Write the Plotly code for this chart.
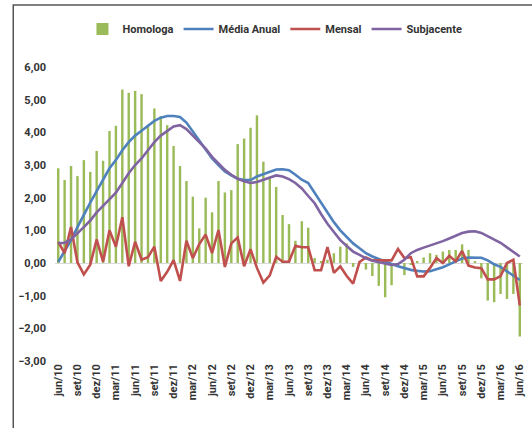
import plotly.graph_objects as go

# categories: monthly, jun/10 .. jun/16
month_names = ["jan", "fev", "mar", "abr", "mai", "jun", "jul", "ago", "set", "out", "nov", "dez"]
months = []
for k in range(73):
    m = (5 + k) % 12
    y = 10 + (5 + k) // 12
    months.append(f"{month_names[m]}/{y:02d}")
tick_labels = months[::3]

homologa = [2.90, 2.54, 2.97, 2.66, 3.15, 2.79, 3.43, 3.13, 4.04, 4.20,
            5.31, 5.21, 5.27, 5.17, 4.21, 4.73, 4.50, 4.22, 3.58, 2.97,
            2.51, 2.03, 1.06, 2.00, 1.55, 2.51, 2.16, 2.23, 3.64, 3.81,
            4.14, 4.52, 3.10, 2.59, 2.33, 1.47, 1.19, 0.68, 1.28, 1.08,
            0.15, 0.05, 0.10, 0.30, 0.50, 0.60, -0.12, 0.05, -0.20, -0.40,
            -0.70, -1.05, -0.68, -0.10, -0.37, -0.05, 0.05, 0.17, 0.30, 0.25,
            0.35, 0.40, 0.40, 0.57, 0.40, 0.05, -0.47, -1.15, -1.20, -0.95,
            -1.10, -0.95, -2.25]

media_anual = [0.03, 0.35, 0.70, 1.10, 1.50, 1.85, 2.20, 2.55, 2.90, 3.15,
               3.45, 3.70, 3.90, 4.05, 4.20, 4.35, 4.45, 4.50, 4.50, 4.47,
               4.30, 4.02, 3.75, 3.45, 3.20, 3.00, 2.80, 2.68, 2.58, 2.54,
               2.54, 2.65, 2.72, 2.80, 2.86, 2.87, 2.84, 2.70, 2.55, 2.45,
               2.15, 1.85, 1.55, 1.25, 1.00, 0.80, 0.60, 0.45, 0.30, 0.20,
               0.12, 0.03, -0.03, -0.10, -0.16, -0.21, -0.24, -0.26, -0.25, -0.20,
               -0.13, -0.04, 0.06, 0.14, 0.17, 0.17, 0.16, 0.08, -0.04, -0.12,
               -0.25, -0.37, -0.52]

mensal = [0.65, 0.30, 1.10, 0.02, -0.35, -0.05, 0.72, 0.04, 1.00, 0.50,
          1.40, -0.10, 0.65, 0.10, 0.18, 0.50, -0.55, -0.27, 0.09, -0.55,
          0.68, 0.15, 0.58, 0.87, 0.30, 1.01, -0.12, 0.60, 0.78, -0.10,
          0.42, -0.15, -0.60, -0.38, 0.19, 0.04, 0.04, 0.53, 0.48, 0.48,
          -0.22, -0.22, 0.49, -0.30, -0.10, -0.40, -0.63, 0.03, 0.17, 0.08,
          0.08, 0.08, 0.08, 0.43, 0.15, 0.18, -0.41, -0.41, -0.15, 0.15,
          0.00, 0.22, 0.05, 0.37, -0.08, -0.14, -0.16, -0.50, -0.50, -0.40,
          0.00, 0.10, -1.30]

subjacente = [0.60, 0.62, 0.72, 0.90, 1.10, 1.30, 1.55, 1.75, 1.95, 2.15,
              2.45, 2.75, 3.00, 3.20, 3.45, 3.70, 3.90, 4.05, 4.18, 4.22,
              4.10, 3.90, 3.70, 3.50, 3.25, 3.05, 2.85, 2.70, 2.58, 2.50,
              2.45, 2.48, 2.55, 2.62, 2.68, 2.65, 2.57, 2.45, 2.28, 2.05,
              1.83, 1.50, 1.20, 0.95, 0.70, 0.52, 0.35, 0.25, 0.14, 0.07,
              0.02, -0.03, -0.06, -0.03, 0.10, 0.30, 0.40, 0.47, 0.53, 0.60,
              0.67, 0.75, 0.83, 0.92, 0.96, 0.97, 0.92, 0.82, 0.72, 0.62,
              0.48, 0.33, 0.20]

y_ticks = [6, 5, 4, 3, 2, 1, 0, -1, -2, -3]

FONT = "Roboto, Liberation Sans, sans-serif"
TXT = "#333333"

fig = go.Figure()
fig.add_trace(go.Bar(x=months, y=homologa, name="Homologa",
                     marker=dict(color="#9BBB59", line=dict(width=0))))
fig.add_trace(go.Scatter(x=months, y=media_anual, name="Média Anual", mode="lines",
                         line=dict(color="#4F81BD", width=2.6)))
fig.add_trace(go.Scatter(x=months, y=mensal, name="Mensal", mode="lines",
                         line=dict(color="#C0504D", width=2.6)))
fig.add_trace(go.Scatter(x=months, y=subjacente, name="Subjacente", mode="lines",
                         line=dict(color="#8064A2", width=2.6)))

L, R, T, B = 55, 6, 67, 67
W, H = 532, 428
pw, ph = W - L - R, H - T - B

fig.update_layout(
    width=W, height=H,
    margin=dict(l=L, r=R, t=T, b=B),
    paper_bgcolor="white", plot_bgcolor="white",
    separators=",.",
    bargap=0.62,
    font=dict(family=FONT, size=11, color=TXT, weight="bold"),
    showlegend=True,
    legend=dict(orientation="h", x=0.47, xanchor="center", y=(H - B - 29) / ph, yanchor="middle",
                font=dict(family=FONT, size=11, color=TXT, weight="bold"), itemwidth=30,
                bgcolor="rgba(0,0,0,0)", tracegroupgap=0),
    xaxis=dict(type="category", tickmode="array", tickvals=tick_labels, ticktext=tick_labels,
               tickangle=-90, showgrid=False, showline=False, zeroline=False,
               tickfont=dict(family=FONT, size=11, color=TXT, weight="bold"), ticks="",
               range=[-0.5, 72.5]),
    yaxis=dict(range=[-3, 6], tickmode="array", tickvals=y_ticks, tickformat=".2f",
               showgrid=False, showline=False, zeroline=True, zerolinecolor="#d9d9d9",
               zerolinewidth=1, ticks="", ticklabelstandoff=8,
               tickfont=dict(family=FONT, size=11, color=TXT, weight="bold")),
    shapes=[dict(type="rect", xref="paper", yref="paper",
                 x0=(13 - L) / pw, x1=(W + 10 - L) / pw,
                 y0=(H - B - (H + 10)) / ph, y1=(H - B - 5) / ph,
                 line=dict(color="#555555", width=1.5), fillcolor="rgba(0,0,0,0)", layer="below")],
)

fig.write_html("out.html", config={"displayModeBar": False},
               post_script="document.body.style.margin='0';document.body.style.overflow='hidden';")
